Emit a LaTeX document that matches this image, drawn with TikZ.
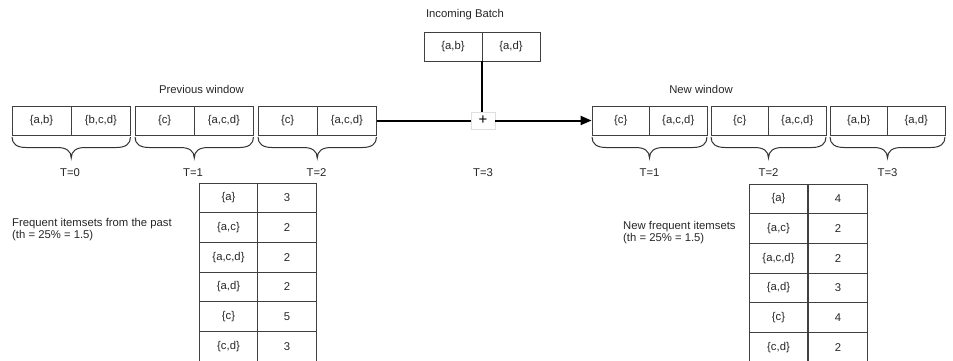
\documentclass[tikz,border=0pt]{standalone}
\usepackage{fontspec}
\setmainfont{Liberation Sans}
\usetikzlibrary{arrows.meta}
\tikzset{
  lbl/.style={font=\fontsize{11.3}{12.5}\selectfont, text=black!85, inner sep=0pt},
  cell/.style={draw=black!75, line width=0.8pt, minimum width=59.25pt, minimum height=29pt, inner sep=0pt,
               font=\fontsize{11.3}{12.5}\selectfont, text=black!85},
  rcell/.style={cell, minimum width=57.5pt},
  tcell/.style={cell, minimum width=58.5pt, minimum height=29.7pt},
  conn/.style={line width=2pt, black},
  bracestyle/.style={draw=black!80, line width=1pt},
  plusbox/.style={draw=gray!25, fill=white, line width=0.6pt, minimum width=24pt, minimum height=17pt, inner sep=0pt,
                  font=\fontsize{15}{15}\selectfont}
}
\newcommand{\mybrace}[2]{%
  \pgfmathsetmacro{\xa}{#1}\pgfmathsetmacro{\xb}{#2}%
  \pgfmathsetmacro{\xm}{(#1+#2)/2}%
  \draw[bracestyle] (\xa,137) .. controls (\xa,144) and (\xa+5,147.5) .. (\xa+14,147.5)
    -- (\xm-14,147.5) .. controls (\xm-5,147.5) and (\xm,151) .. (\xm,158)
    .. controls (\xm,151) and (\xm+5,147.5) .. (\xm+14,147.5)
    -- (\xb-14,147.5) .. controls (\xb-5,147.5) and (\xb,144) .. (\xb,137);}
\begin{document}
\begin{tikzpicture}[x=1pt,y=-1pt]
\useasboundingbox (0,0) rectangle (953,360);

% Incoming batch
\node[lbl] (ibl) at (465,15) {Incoming Batch};
\node[cell, minimum width=58pt] (IBa) at (453,46.5) {\{a,b\}};
\node[cell, minimum width=58pt] (IBb) at (511,46.5) {\{a,d\}};

% Previous window
\node[lbl] (pwl) at (201.5,89) {Previous window};
\node[cell] (B0a) at (41.6,120.5) {\{a,b\}};
\node[cell] (B0b) at (100.9,120.5) {\{b,c,d\}};
\node[cell] (B1a) at (164.6,120.5) {\{c\}};
\node[cell] (B1b) at (223.9,120.5) {\{a,c,d\}};
\node[cell] (B2a) at (287.6,120.5) {\{c\}};
\node[cell] (B2b) at (346.9,120.5) {\{a,c,d\}};

% New window
\node[lbl] (nwl) at (701,89) {New window};
\node[rcell] (N1a) at (620.75,120.5) {\{c\}};
\node[rcell] (N1b) at (678.25,120.5) {\{a,c,d\}};
\node[rcell] (N2a) at (739.75,120.5) {\{c\}};
\node[rcell] (N2b) at (797.25,120.5) {\{a,c,d\}};
\node[rcell] (N3a) at (858.75,120.5) {\{a,b\}};
\node[rcell] (N3b) at (916.25,120.5) {\{a,d\}};

% plus and connectors
\node[plusbox] (plus) at (483,120.5) {+};
\draw[conn] (B2b.east) -- (plus.west);
\draw[conn, -{Triangle[length=11pt,width=9pt]}] (plus.east) -- (N1a.west);
\draw[conn] (IBa.south east) -- (IBa.south east |- plus.north);

% braces
\mybrace{12}{130.5}
\mybrace{135}{253.5}
\mybrace{258}{376.5}
\mybrace{592}{707}
\mybrace{711}{826}
\mybrace{830}{945}

% time labels
\node[lbl] (t0) at (70,173) {T=0};
\node[lbl] (t1) at (193,173) {T=1};
\node[lbl] (t2) at (316.5,173) {T=2};
\node[lbl] (t3) at (483,173) {T=3};
\node[lbl] (n1) at (649.5,173) {T=1};
\node[lbl] (n2) at (768.5,173) {T=2};
\node[lbl] (n3) at (887.5,173) {T=3};

% descriptions
\node[lbl, anchor=north west, align=left] (desc1) at (12,218) {Frequent itemsets from the past\\(th = 25\% = 1.5)};
\node[lbl, anchor=north west, align=left] (desc2) at (623,221) {New frequent itemsets\\(th = 25\% = 1.5)};

% left table
\foreach \s/\v [count=\i from 0] in {{\{a\}}/3,{\{a,c\}}/2,{\{a,c,d\}}/2,{\{a,d\}}/2,{\{c\}}/5,{\{c,d\}}/3}{
  \node[tcell] (L\i a) at (228.5,197.85+29.7*\i) {\s};
  \node[tcell] (L\i b) at (287,197.85+29.7*\i) {\v};
}
% right table
\foreach \s/\v [count=\i from 0] in {{\{a\}}/4,{\{a,c\}}/2,{\{a,c,d\}}/2,{\{a,d\}}/3,{\{c\}}/4,{\{c,d\}}/2}{
  \node[tcell] (R\i a) at (778.5,198.85+29.7*\i) {\s};
  \node[tcell] (R\i b) at (838,198.85+29.7*\i) {\v};
}
\end{tikzpicture}
\end{document}
